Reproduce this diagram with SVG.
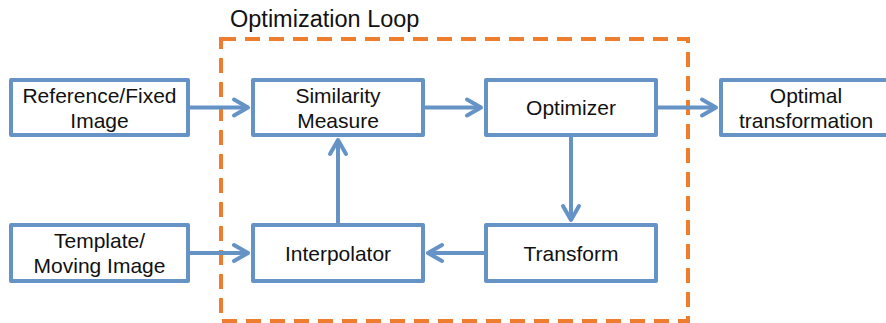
<svg xmlns="http://www.w3.org/2000/svg" width="886" height="323" viewBox="0 0 886 323">
<style>
.box{fill:#fff;stroke:#6593C6;stroke-width:4;stroke-linejoin:round}
.lbl{font-family:"Liberation Sans",Arial,Helvetica,sans-serif;font-size:21px;fill:#111;text-anchor:middle}
.conn{stroke:#6593C6;stroke-width:4;fill:none;marker-end:url(#arr)}
</style>
<defs>
<marker id="arr" markerUnits="userSpaceOnUse" viewBox="-18 -12 22 24" markerWidth="22" markerHeight="24" refX="0" refY="0" orient="auto">
<path d="M-14,-8 L0,0 L-14,8" fill="none" stroke="#6593C6" stroke-width="4" stroke-linecap="round" stroke-linejoin="round"/>
</marker>
</defs>
<rect width="886" height="323" fill="#fff"/>
<g id="loop">
<rect x="221" y="39" width="467" height="282" fill="none" stroke="#EE7D2F" stroke-width="4" stroke-dasharray="15 9"/>
<text x="230" y="27" style="font-family:'Liberation Sans',Arial,Helvetica,sans-serif;font-size:23.5px;fill:#111">Optimization Loop</text>
</g>
<g id="connectors">
<line class="conn" x1="190" y1="107.5" x2="248" y2="107.5"/>
<line class="conn" x1="425" y1="107.5" x2="481" y2="107.5"/>
<line class="conn" x1="658" y1="107.5" x2="716" y2="107.5"/>
<line class="conn" x1="571" y1="137" x2="571" y2="220"/>
<line class="conn" x1="484" y1="253" x2="428" y2="253"/>
<line class="conn" x1="338" y1="223" x2="338" y2="140"/>
<line class="conn" x1="190" y1="253" x2="248" y2="253"/>
</g>
<g id="reference">
<rect class="box" x="11" y="80" width="177" height="55"/>
<text class="lbl" x="99.5" y="103">Reference/Fixed</text>
<text class="lbl" x="99.5" y="128">Image</text>
</g>
<g id="similarity">
<rect class="box" x="253" y="80" width="170" height="55"/>
<text class="lbl" x="338" y="103">Similarity</text>
<text class="lbl" x="338" y="128">Measure</text>
</g>
<g id="optimizer">
<rect class="box" x="486" y="80" width="170" height="55"/>
<text class="lbl" x="571" y="115">Optimizer</text>
</g>
<g id="optimal">
<rect class="box" x="721" y="80" width="172" height="55"/>
<text class="lbl" x="806" y="103">Optimal</text>
<text class="lbl" x="806" y="128">transformation</text>
</g>
<g id="template">
<rect class="box" x="11" y="225" width="177" height="56"/>
<text class="lbl" x="99.5" y="248">Template/</text>
<text class="lbl" x="99.5" y="273">Moving Image</text>
</g>
<g id="interpolator">
<rect class="box" x="253" y="225" width="170" height="56"/>
<text class="lbl" x="338" y="261">Interpolator</text>
</g>
<g id="transform">
<rect class="box" x="486" y="225" width="170" height="56"/>
<text class="lbl" x="571" y="261">Transform</text>
</g>
</svg>
